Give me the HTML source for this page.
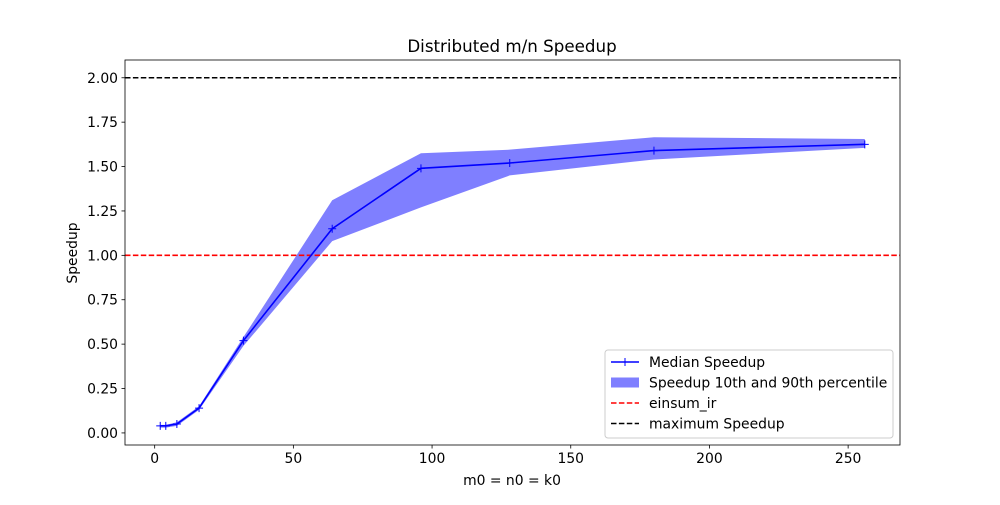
<!DOCTYPE html>
<html><head><meta charset="utf-8"><style>
body{margin:0;background:#fff;font-family:"Liberation Sans","DejaVu Sans",sans-serif}
svg text{font-family:"DejaVu Sans","Liberation Sans",sans-serif;font-size:13.9px;fill:#000}
</style></head><body>
<svg id="chart" width="1000" height="500" xmlns="http://www.w3.org/2000/svg">
<rect width="1000" height="500" fill="#fff"/>
<text x="512" y="52" text-anchor="middle" style="font-size:16.7px">Distributed m/n Speedup</text>
<g id="plot"></g>
<text x="512" y="485" text-anchor="middle">m0 = n0 = k0</text>
<text transform="translate(77,253) rotate(-90)" text-anchor="middle">Speedup</text>
</svg>
<script>
const xs=[2,4,8,16,32,64,96,128,180,256];
const median=[0.04,0.04,0.05,0.14,0.52,1.15,1.49,1.52,1.59,1.625];
const p10=[0.03,0.03,0.04,0.13,0.49,1.08,1.27,1.45,1.54,1.605];
const p90=[0.045,0.045,0.06,0.15,0.54,1.31,1.575,1.595,1.665,1.655];
const xTicks=[0,50,100,150,200,250];
const yTicks=[0,0.25,0.5,0.75,1.0,1.25,1.5,1.75,2.0];
const refLines=[1.0,2.0];
const L=125,R=900,T=60,B=445,xmin=-10.7,xmax=268.7,ymin=-0.068,ymax=2.1;
const sx=v=>L+(v-xmin)/(xmax-xmin)*(R-L);
const sy=v=>B-(v-ymin)/(ymax-ymin)*(B-T);
const NS="http://www.w3.org/2000/svg",g=document.getElementById('plot');
function mk(t,a){const e=document.createElementNS(NS,t);for(const k in a)e.setAttribute(k,a[k]);g.appendChild(e);return e;}
let d='M'+xs.map((x,i)=>sx(x)+','+sy(p90[i])).join('L');
for(let i=xs.length-1;i>=0;i--)d+='L'+sx(xs[i])+','+sy(p10[i]);
const band=mk('path',{d:d+'Z',fill:'#0000ff',opacity:0.5});


const colors=['#ff0000','#000000'];
refLines.forEach((v,i)=>{const l=mk('line',{x1:L,x2:R,y1:sy(v),y2:sy(v),stroke:colors[i],'stroke-width':1.6,'stroke-dasharray':'5.5,2.4'});

});
const ml=mk('polyline',{points:xs.map((x,i)=>sx(x)+','+sy(median[i])).join(' '),fill:'none',stroke:'#0000ff','stroke-width':1.6});


xs.forEach((x,i)=>{const m=mk('path',{d:`M${sx(x)-4},${sy(median[i])}h8M${sx(x)},${sy(median[i])-4}v8`,stroke:'#0000ff','stroke-width':1});

});
const fr=mk('rect',{x:L,y:T,width:R-L,height:B-T,fill:'none',stroke:'#000','stroke-width':0.8});


xTicks.forEach(v=>{mk('line',{x1:sx(v),x2:sx(v),y1:B,y2:B+3.5,stroke:'#000','stroke-width':0.8});
const t=mk('text',{x:sx(v),y:B+18,'text-anchor':'middle'});t.textContent=v;

});
yTicks.forEach(v=>{mk('line',{x1:L-3.5,x2:L,y1:sy(v),y2:sy(v),stroke:'#000','stroke-width':0.8});
const t=mk('text',{x:L-7,y:sy(v)+5,'text-anchor':'end'});t.textContent=v.toFixed(2);

});
const lg=mk('rect',{x:605,y:350,width:288,height:88,rx:3,fill:'#fff','fill-opacity':0.8,stroke:'#ccc'});


const items=['Median Speedup','Speedup 10th and 90th percentile','einsum_ir','maximum Speedup'];
items.forEach((s,i)=>{const y=362+i*20.5;
if(i==0){mk('line',{x1:611,x2:639,y1:y,y2:y,stroke:'#0000ff','stroke-width':1.6});mk('path',{d:`M621,${y}h8M625,${y-4}v8`,stroke:'#0000ff'});}
else if(i==1){mk('rect',{x:611,y:y-5,width:28,height:10,fill:'#0000ff',opacity:0.5});}
else mk('line',{x1:611,x2:639,y1:y,y2:y,stroke:i==2?'#ff0000':'#000','stroke-width':1.6,'stroke-dasharray':'5.5,2.4'});
const t=mk('text',{x:649,y:y+5});t.textContent=s;

});
</script>
</body></html>
